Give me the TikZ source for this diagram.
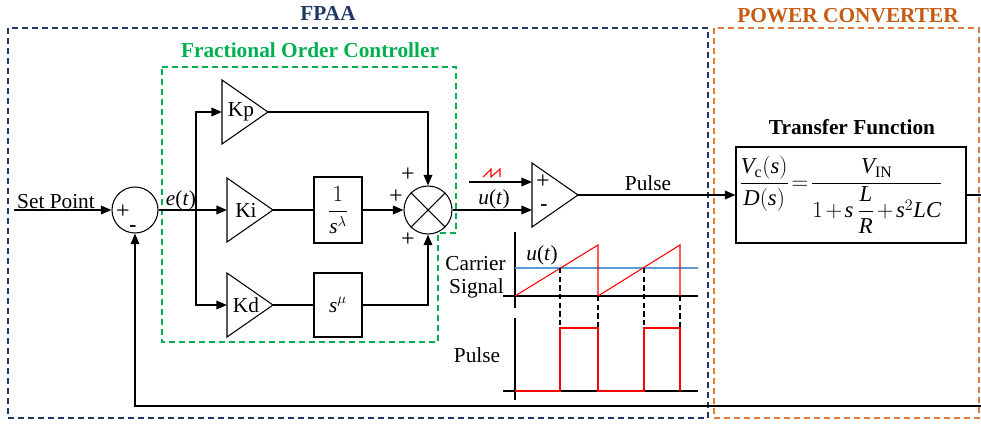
\documentclass[tikz,border=0pt]{standalone}
\usepackage{amsmath}
\usepackage{fontspec}
\setmainfont{Liberation Serif}
\usetikzlibrary{arrows.meta,calc}
\definecolor{navy}{HTML}{1F3864}
\definecolor{fgreen}{HTML}{00B050}
\definecolor{orlbl}{HTML}{C55A11}
\definecolor{ordash}{HTML}{E07B39}
\definecolor{lblue}{HTML}{5B9BD5}
\newcommand\ampblock[4]{%
  \draw[shp] (#2,#3-32) -- (#2+46,#3) -- (#2,#3+32) -- cycle;
  \coordinate (#1-in) at (#2,#3);
  \coordinate (#1-out) at (#2+46,#3);
  \node[inner sep=0pt] (#1) at (#2+19,#3) {#4};
}
\begin{document}
\begin{tikzpicture}[x=0.75pt,y=-0.75pt,
  font=\fontsize{16}{18}\selectfont,
  conn/.style={line width=1.2pt,draw=black},
  arr/.style={conn,-{Triangle[length=8pt,width=6.5pt]}},
  shp/.style={line width=0.8pt,draw=black},
  blk/.style={shp,inner sep=0pt},
  sgn/.style={inner sep=0pt,font=\fontsize{18}{20}\selectfont},
  dbox/.style={line width=1.1pt,dash pattern=on 4.5pt off 3pt},
  vdash/.style={line width=0.8pt,dash pattern=on 4pt off 2.5pt},
  title/.style={inner sep=0pt,font=\fontsize{16}{18}\selectfont\bfseries}]
\useasboundingbox (0,0) rectangle (981,424);

% frames
\draw[dbox,navy] (8,28) rectangle (708,418);
\draw[dbox,ordash] (714,28) rectangle (979,418);
\draw[dbox,fgreen] (162,67) -- (456,67) -- (456,233) -- (438,233) -- (438,342) -- (162,342) -- cycle;
\node[title,text=navy] (tfpaa) at (328,13) {FPAA};
\node[title,text=orlbl] (tpc) at (848,16) {POWER CONVERTER};
\node[title,text=fgreen] (tfoc) at (310,50) {Fractional Order Controller};
\node[title] (ttf) at (852,127) {Transfer Function};

% blocks
\node[circle,shp,minimum size=34.5pt,inner sep=0pt] (sum) at (135,210) {};
\node[sgn] (sump) at (123,212) {+};
\node[sgn,font=\fontsize{16}{18}\selectfont\bfseries] (summ) at (133,229) {-};
\ampblock{kp}{222}{112}{Kp}
\ampblock{ki}{227}{210}{Ki}
\ampblock{kd}{227}{305}{Kd}
\node[blk,minimum width=36pt,minimum height=49.5pt] (fi) at (338,210) {$\dfrac{1}{\mathit{s}^{\lambda}}$};
\node[blk,minimum width=36pt,minimum height=48pt] (smu) at (338,305) {$\mathit{s}^{\mu}$};
\node[circle,shp,minimum size=36pt,inner sep=0pt] (mul) at (428,210) {};
\draw[shp] (mul.north east) -- (mul.south west);
\draw[shp] (mul.north west) -- (mul.south east);
\node[sgn] (mp1) at (408,175) {+};
\node[sgn] (mp2) at (396,197) {+};
\node[sgn] (mp3) at (408,240) {+};
\ampblock{cmp}{532}{195}{}
\node[sgn] (cp) at (543,182) {+};
\node[sgn,font=\fontsize{16}{18}\selectfont\bfseries] (cm) at (544,208) {-};
\node[blk,minimum width=172.5pt,minimum height=72pt] (tf) at (851,195) {};
\node[inner sep=0pt,font=\fontsize{17}{19}\selectfont] (tfeq) at (841,195)
  {\thickmuskip=2mu\medmuskip=2mu$\dfrac{\mathit{V}_{\mathrm{c}}(\mathit{s})}{\mathit{D}(\mathit{s})}=\dfrac{\mathit{V}_{\mathrm{IN}}}{1+\mathit{s}\,\dfrac{\mathit{L}}{\mathit{R}}+\mathit{s}^{2}\mathit{LC}}$};

% connectors
\coordinate (sp) at (14,210);
\coordinate (br) at (196,210);
\coordinate (saw) at (469,182);
\coordinate (outR) at (981,195);
\coordinate (fbR) at (981,406);
\draw[arr] (sp) -- (sum.west);
\node[inner sep=0pt] (lsp) at (56,202) {Set Point};
\draw[arr] (sum.east) -- (ki-in);
\node[inner sep=0pt] (let) at (181,200) {\textit{e}(\textit{t})};
\draw[arr] (br) |- (kp-in);
\draw[arr] (br) |- (kd-in);
\draw[conn] (ki-out) -- (fi.west);
\draw[arr] (fi.east) -- (mul.west);
\draw[arr] (kp-out) -| (mul.north);
\draw[conn] (kd-out) -- (smu.west);
\draw[arr] (smu.east) -| (mul.south);
\draw[arr] (mul.east) -- (mul.east -| cmp-in);
\node[inner sep=0pt] (lut) at (494,199) {\textit{u}(\textit{t})};
\draw[arr] (saw) -- (saw -| cmp-in);
\draw[red,line width=0.8pt] (483,177) -- (491,169) -- (491,177) -- (500,169) -- (500,177);
\draw[arr] (cmp-out) -- (cmp-out -| tf.west);
\node[inner sep=0pt] (lpulse) at (648,183) {Pulse};
\draw[conn] (tf.east) -- (outR);
\draw[arr] (fbR) -| (sum.south);

% carrier plot
\draw[line width=0.8pt] (515,232) -- (515,308);
\draw[line width=0.8pt] (503,296) -- (698,296);
\draw[lblue,line width=0.8pt] (515,268) -- (698,268);
\draw[red,line width=0.8pt] (515,296) -- (598,245) -- (598,296) -- (680,245) -- (680,296);
\draw[vdash] (560,268) -- (560,328);
\draw[vdash] (598,296) -- (598,328);
\draw[vdash] (644,268) -- (644,328);
\draw[vdash] (680,296) -- (680,328);
\node[inner sep=0pt] (lu2) at (542,255) {\textit{u}(\textit{t})};
\node[inner sep=0pt,anchor=east] (lcar) at (506,264) {Carrier};
\node[inner sep=0pt,anchor=east] (lsig) at (504,288) {Signal};
% pulse plot
\draw[line width=0.8pt] (515,318) -- (515,400);
\draw[line width=0.8pt] (503,391) -- (698,391);
\draw[red,line width=0.8pt] (515,391) -- (560,391) -- (560,328) -- (598,328) -- (598,391) -- (644,391) -- (644,328) -- (680,328) -- (680,391);
\node[inner sep=0pt] (lpl) at (477,355) {Pulse};
\end{tikzpicture}
\end{document}
